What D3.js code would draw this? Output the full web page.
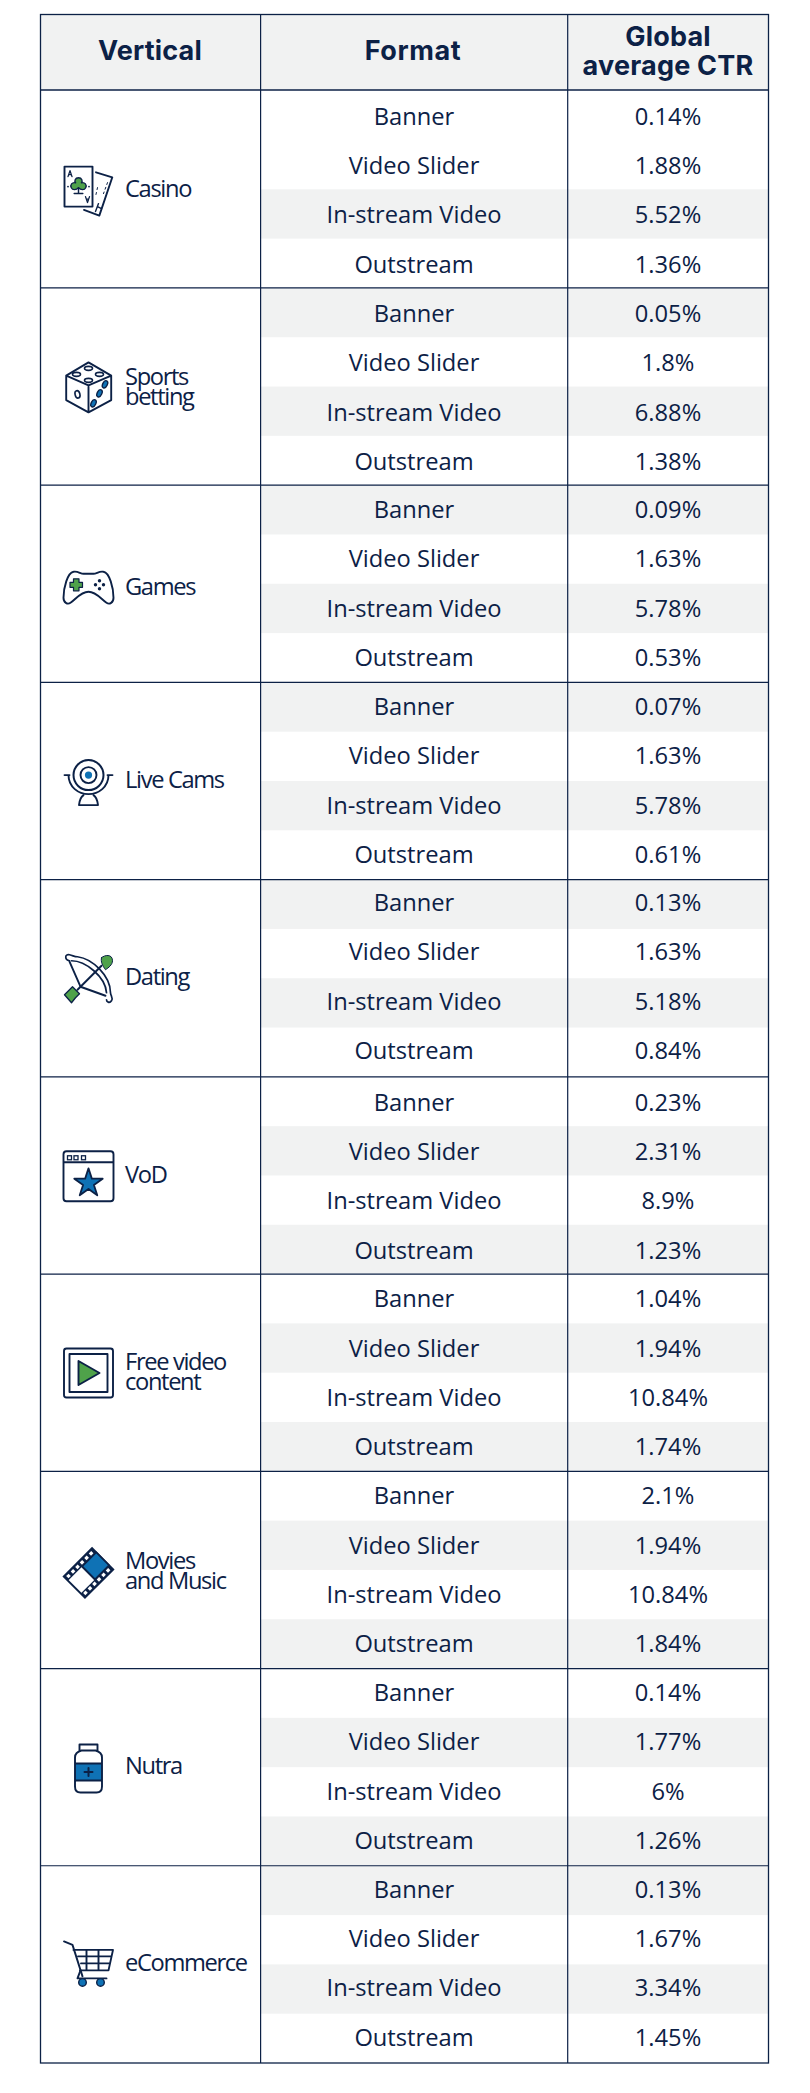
<!DOCTYPE html>
<html>
<head>
<meta charset="utf-8">
<script src="https://cdn.jsdelivr.net/npm/d3@7"></script>
<style>
  html, body { margin: 0; background: #fff; }
  svg { display: block; }
</style>
</head>
<body>
<script>
"use strict";

// === Data ===
const headers = [["Vertical"], ["Format"], ["Global", "average CTR"]];
const verticals = [
  ["Casino"], ["Sports", "betting"], ["Games"], ["Live Cams"], ["Dating"],
  ["VoD"], ["Free video", "content"], ["Movies", "and Music"], ["Nutra"], ["eCommerce"]
];
const formats = ["Banner", "Video Slider", "In-stream Video", "Outstream"];
const casino = ["0.14%", "1.88%", "5.52%", "1.36%"];
const sports = ["0.05%", "1.8%", "6.88%", "1.38%"];
const games = ["0.09%", "1.63%", "5.78%", "0.53%"];
const liveCams = ["0.07%", "1.63%", "5.78%", "0.61%"];
const dating = ["0.13%", "1.63%", "5.18%", "0.84%"];
const vod = ["0.23%", "2.31%", "8.9%", "1.23%"];
const freeVideo = ["1.04%", "1.94%", "10.84%", "1.74%"];
const movies = ["2.1%", "1.94%", "10.84%", "1.84%"];
const nutra = ["0.14%", "1.77%", "6%", "1.26%"];
const ecommerce = ["0.13%", "1.67%", "3.34%", "1.45%"];
const ctr = [casino, sports, games, liveCams, dating, vod, freeVideo, movies, nutra, ecommerce];

// === Layout ===
const navy = "#0c2146", grey = "#f1f2f2", blue = "#0f72b5", green = "#4fa24a";
const left = 40.5, col1 = 260.6, col2 = 567.7, right = 768.5;
const top_ = 14.5, headBottom = 90, bottom = 2063;
const colCenter = [150, 414, 668];
const bodyFont = "'Open Sans', sans-serif", headFont = "Inter, sans-serif";
// the source table is not quite regular: small per-group shifts, in px
const rowNudge = [0.8, 0.8, -0.3, -0.5, -1.8, 0.8, 0, -0.2, -0.6, -1.2];
const labelNudge = [0, 1, 3.5, 0, -1, 0, -0.5, 2, 0, -1];
const iconNudge = [1.3, 0.8, 4, 1.1, 0.5, 0.8, 0.3, 3, 1.3, -1];

const svg = d3.select("body").append("svg").attr("width", 810).attr("height", 2093);

const groupY = d3.scaleBand().domain(d3.range(verticals.length)).range([90.7, bottom]);
const rowY = d3.scaleBand().domain(formats).range([0, groupY.bandwidth()]);

// which rows of a group carry the grey stripe
function striped(g, r) {
  if (g === 0) return r === 2;
  if (g >= 5 && g <= 8) return r % 2 === 1;
  return r % 2 === 0;
}

// === Backgrounds ===
svg.append("rect").attr("x", left).attr("y", top_).attr("width", right - left)
  .attr("height", headBottom - top_).attr("fill", grey);

const groups = svg.selectAll("g.group").data(ctr).join("g").attr("class", "group")
  .attr("transform", (d, i) => `translate(0,${groupY(i)})`);

groups.each(function (vals, g) {
  const sel = d3.select(this);
  formats.forEach((f, r) => {
    if (striped(g, r)) {
      sel.append("rect").attr("x", col1).attr("y", rowY(f)).attr("width", right - col1)
        .attr("height", rowY.bandwidth()).attr("fill", grey);
    }
    const cy = rowY(f) + rowY.bandwidth() / 2 + rowNudge[g];
    sel.append("text").attr("x", colCenter[1]).attr("y", cy).text(f).call(bodyText);
    sel.append("text").attr("x", colCenter[2]).attr("y", cy).text(vals[r]).call(bodyText);
  });
});

function bodyText(t) {
  t.attr("text-anchor", "middle").attr("dy", "0.36em").attr("fill", navy)
    .attr("font-family", bodyFont).attr("font-size", 23.7).attr("font-weight", 535);
}

// === Grid ===
function rule(x1, y1, x2, y2, w) {
  svg.append("line").attr("x1", x1).attr("y1", y1).attr("x2", x2).attr("y2", y2)
    .attr("stroke", navy).attr("stroke-width", w);
}
rule(col1, top_, col1, bottom, 1.2);
rule(col2, top_, col2, bottom, 1.2);
rule(left, headBottom, right, headBottom, 1.3);
groupY.domain().slice(1).forEach(i => rule(left, groupY(i), right, groupY(i), 1.2));
svg.append("rect").attr("x", left).attr("y", top_).attr("width", right - left)
  .attr("height", bottom - top_).attr("fill", "none").attr("stroke", navy).attr("stroke-width", 1.3);

// === Header ===
headers.forEach((lines, c) => {
  lines.forEach((line, k) => {
    svg.append("text").attr("x", colCenter[c] - (c === 1 ? 1 : 0)).text(line)
      .attr("y", lines.length === 1 ? 60 : 46 + k * 29)
      .attr("text-anchor", "middle").attr("fill", navy)
      .attr("font-family", headFont).attr("font-size", 27).attr("font-weight", 700)
      .attr("letter-spacing", c === 1 ? 0.6 : 0.2);
  });
});

// === Vertical labels ===
verticals.forEach((lines, g) => {
  const cy = groupY(g) + groupY.bandwidth() / 2 + labelNudge[g];
  lines.forEach((line, k) => {
    svg.append("text").attr("x", 125).attr("y", cy + (k - (lines.length - 1) / 2) * 20 - 1.2)
      .attr("dy", "0.36em").text(line).attr("fill", navy)
      .attr("font-family", bodyFont).attr("font-size", 23.7).attr("font-weight", 535)
      .attr("letter-spacing", -1.35);
  });
});

// === Icons (drawn around 0,0, about 50 across) ===
function outline(s, d, fill) {
  return s.append("path").attr("d", d).attr("fill", fill || "none").attr("stroke", navy)
    .attr("stroke-width", 1.9).attr("stroke-linejoin", "round").attr("stroke-linecap", "round");
}
function dot(s, x, y, r, fill) {
  return s.append("circle").attr("cx", x).attr("cy", y).attr("r", r).attr("fill", fill || navy);
}

const icons = [
  function card(s) {
    outline(s, "M7.5,-18.3 L23.8,-13.3 L10.8,25 L-4.5,19.3");
    outline(s, "M19,-8 L15,3 M9,-3 L7,6").attr("stroke-width", 1).attr("stroke-dasharray", "2 3");
    outline(s, "M10,13 L7,21 M9,16 L13,18").attr("stroke-width", 1.4);
    outline(s, "M-24,-24 H4 V16 H-24 Z", "#fff");
    outline(s, "M-20.5,-14 L-18.5,-20 L-16.5,-14 M-19.6,-16 H-17.4").attr("stroke-width", 1.3);
    outline(s, "M-3,6 L-1,12 L1,6 M-2,8.5 H0").attr("stroke-width", 1.3);
    const club = s.append("g").attr("transform", "translate(-10,-5) scale(0.72)");
    outline(club, "M0,-11 C-5,-11 -6,-6 -4,-4 C-9,-5 -12,-1 -10,3 C-8,7 -3,6 0,3 C3,6 8,7 10,3 C12,-1 9,-5 4,-4 C6,-6 5,-11 0,-11 Z", green).attr("stroke-width", 1.9);
    outline(club, "M0,3 V11 M-6,11 H6").attr("stroke-width", 2);
    dot(s, -20.5, -4, 0.9); dot(s, 0.5, -4, 0.9);
  },
  function dice(s) {
    outline(s, "M0,-25 L22.7,-11.7 V12.7 L0,25 L-22.3,12.7 V-11.7 Z M-22.3,-11.7 L0,-2 L22.7,-11.7 M0,-2 V25");
    [[0, -19], [-12, -13], [11, -13], [0, -7]].forEach(p =>
      s.append("ellipse").attr("cx", p[0]).attr("cy", p[1]).attr("rx", 4).attr("ry", 2)
        .attr("fill", "#fff").attr("stroke", navy).attr("stroke-width", 1.6));
    s.append("ellipse").attr("transform", "translate(-11,7) rotate(-15)").attr("rx", 2.4).attr("ry", 3.8)
      .attr("fill", "#fff").attr("stroke", navy).attr("stroke-width", 1.6);
    [[16.5, -3], [11, 6], [5, 16]].forEach(p =>
      s.append("ellipse").attr("transform", `translate(${p[0]},${p[1]}) rotate(25)`).attr("rx", 2.3).attr("ry", 3.9)
        .attr("fill", blue).attr("stroke", navy).attr("stroke-width", 1.4));
  },
  function pad(s) {
    outline(s, "M-15,-16 C-11,-17 -8,-14 -5,-14 H5 C8,-14 11,-17 15,-16 C21,-15 25,0 25,10 C25,15 21,17 18,15 C13,12 8,4 0,4 C-8,4 -13,12 -18,15 C-21,17 -25,15 -25,10 C-25,0 -21,-15 -15,-16 Z");
    outline(s, "M-15,-9 H-9.5 V-5.5 H-6 V-0.5 H-9.5 V3 H-15 V-0.5 H-18.5 V-5.5 H-15 Z", green).attr("stroke-width", 1.2);
    [[11, -7], [7, -3], [15, -3], [11, 1]].forEach(p => dot(s, p[0], p[1], 1.7));
  },
  function cam(s) {
    dot(s, 0, -7, 15, "#fff").attr("stroke", navy).attr("stroke-width", 2);
    dot(s, 0, -7, 8, "#fff").attr("stroke", navy).attr("stroke-width", 1.9);
    dot(s, 0, -7, 3.6, blue);
    outline(s, "M-24,-7 H-19 M19,-7 H24 M-20,-7 C-20,5 -10,12 0,12 C10,12 20,5 20,-7");
    outline(s, "M-5,13 C-8,15 -9,18 -9.5,23 H9.5 C9,18 8,15 5,13");
  },
  function bow(s) {
    outline(s, "M-19,-18 C-24,-19 -24,-25 -19,-24 C-15,-23 -14,-22 -11,-22 C4,-20 22,-3 22,14 C22,17 25,19 23,22 C21,25 18,23 18,21").attr("stroke-width", 1.7);
    outline(s, "M-17,-18 C-3,-18 17,-2 18,14").attr("stroke-width", 1.7);
    outline(s, "M-19,-17 L-8,8 L17,17");
    outline(s, "M-11,11 L13,-13");
    outline(s, "M13,-21 C16,-24 24,-25 24,-18 C24,-14 20,-11 17,-9 C14,-13 12,-17 13,-21 Z", green).attr("stroke-width", 1);
    outline(s, "M-24,16 L-16,8 L-9,15 L-13,19 L-17,24 Z", green).attr("stroke-width", 1.3);
  },
  function vodWindow(s) {
    outline(s, "M-22,-25 H22 Q25,-25 25,-22 V22 Q25,25 22,25 H-22 Q-25,25 -25,22 V-22 Q-25,-25 -22,-25 Z M-25,-14 H25");
    [-19, -12.5, -5].forEach(x =>
      s.append("rect").attr("x", x - 2).attr("y", -20.5).attr("width", 4).attr("height", 4)
        .attr("fill", "none").attr("stroke", navy).attr("stroke-width", 1.3));
    s.append("path").attr("d", d3.symbol().type(d3.symbolStar).size(250)())
      .attr("transform", "translate(0,7)").attr("fill", blue).attr("stroke", navy)
      .attr("stroke-width", 1.8).attr("stroke-linejoin", "round");
  },
  function play(s) {
    outline(s, "M-22,-24.5 H22 Q24.5,-24.5 24.5,-22 V22 Q24.5,24.5 22,24.5 H-22 Q-24.5,24.5 -24.5,22 V-22 Q-24.5,-24.5 -22,-24.5 Z");
    outline(s, "M-19,-19 H19 V19 H-19 Z");
    outline(s, "M-10,-12 L11,0 L-10,12 Z", green);
  },
  function film(s) {
    const f = s.append("g").attr("transform", "rotate(-45)");
    f.append("rect").attr("x", -20).attr("y", -15).attr("width", 40).attr("height", 30)
      .attr("fill", "#fff").attr("stroke", navy).attr("stroke-width", 1.9);
    f.append("rect").attr("x", 0).attr("y", -9).attr("width", 20).attr("height", 18).attr("fill", blue)
      .attr("stroke", navy).attr("stroke-width", 1.6);
    f.append("rect").attr("x", -20).attr("y", -15).attr("width", 40).attr("height", 6).attr("fill", navy);
    f.append("rect").attr("x", -20).attr("y", 9).attr("width", 40).attr("height", 6).attr("fill", navy);
    d3.range(-18, 18, 6.4).forEach(x => {
      [-13.6, 10.4].forEach(y => f.append("rect").attr("x", x).attr("y", y).attr("width", 3.4)
        .attr("height", 3.2).attr("fill", "#fff"));
    });
    f.append("line").attr("x1", 0).attr("x2", 0).attr("y1", -9).attr("y2", 9).attr("stroke", navy).attr("stroke-width", 1.8);
  },
  function bottle(s) {
    s.append("rect").attr("x", -13.5).attr("y", -5).attr("width", 27).attr("height", 17).attr("fill", blue);
    outline(s, "M-9,-18 V-24 H9 V-18 M-7,-18 H7 C11,-17 13.5,-15 13.5,-11 V18 C13.5,22 11,24 8,24 H-8 C-11,24 -13.5,22 -13.5,18 V-11 C-13.5,-15 -11,-17 -7,-18 Z M-13.5,-5 H13.5 M-13.5,12 H13.5");
    outline(s, "M-4,3.5 H4 M0,-0.5 V7.5").attr("stroke-width", 2);
  },
  function cart(s) {
    outline(s, "M-24.5,-22 L-16,-18.5 L-6,13");
    outline(s, "M-15,-13.5 H24.5 L20,7 H-8.5 M-10.5,-7 H23 M-7.5,0 H21.5 M-2,-13.5 V7 M10,-13.5 V7");
    outline(s, "M-8,7 L-11,15 H18");
    [-6, 12].forEach(x => dot(s, x, 19, 3.8, blue).attr("stroke", navy).attr("stroke-width", 1.4));
  }
];

icons.forEach((draw, g) => {
  draw(svg.append("g").attr("transform", `translate(88.5,${groupY(g) + groupY.bandwidth() / 2 + iconNudge[g]})`));
});
</script>
</body>
</html>
